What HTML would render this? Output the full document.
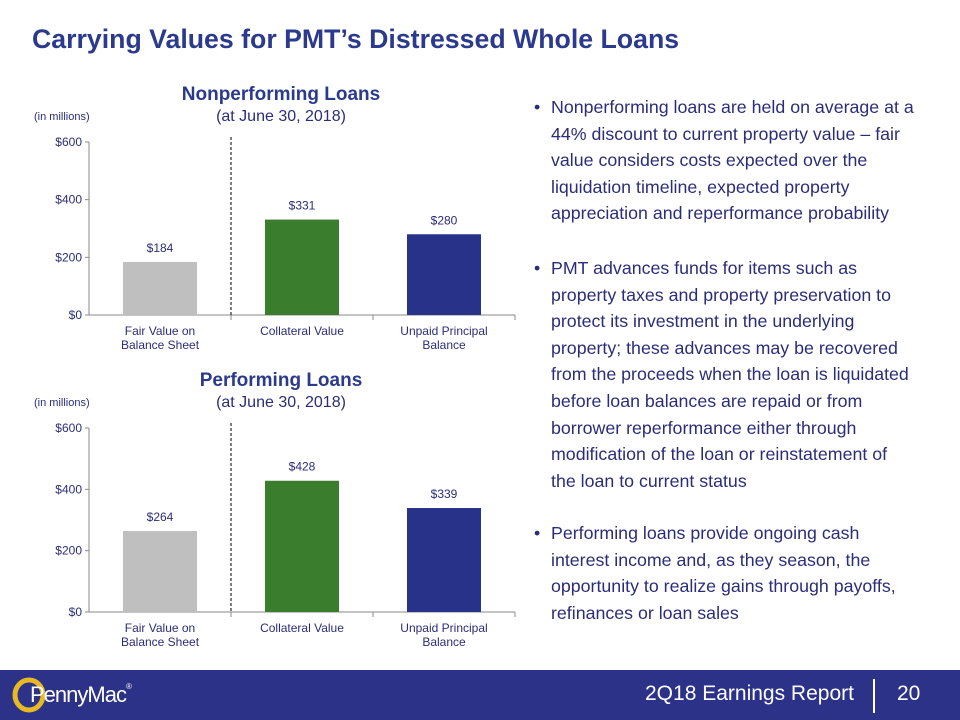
<!DOCTYPE html>
<html><head><meta charset="utf-8"><style>
body{margin:0;width:960px;height:720px;position:relative;background:#fff;font-family:"Liberation Sans",sans-serif;overflow:hidden}
.title{position:absolute;left:32px;top:24px;font-size:26.7px;font-weight:bold;color:#2B3A8C;white-space:nowrap}
.bul{position:absolute;left:534px;font-size:17.8px;color:#2B2D78;line-height:26.6px;white-space:nowrap}
.bul .dot{position:absolute;left:0}
.bul .tx{position:absolute;left:17px}
.footer{position:absolute;left:0;top:670px;width:960px;height:50px;background:#2B3288}
svg text{font-family:"Liberation Sans",sans-serif}
</style></head><body>
<div class="title">Carrying Values for PMT’s Distressed Whole Loans</div>

<svg width="520" height="670" style="position:absolute;left:0;top:0">
<g id="c1"></g>
<g id="c2"></g>
</svg>

<div class="bul" style="top:94px"><span class="dot">•</span><span class="tx">Nonperforming loans are held on average at a<br>44% discount to current property value – fair<br>value considers costs expected over the<br>liquidation timeline, expected property<br>appreciation and reperformance probability</span></div>
<div class="bul" style="top:255px"><span class="dot">•</span><span class="tx">PMT advances funds for items such as<br>property taxes and property preservation to<br>protect its investment in the underlying<br>property; these advances may be recovered<br>from the proceeds when the loan is liquidated<br>before loan balances are repaid or from<br>borrower reperformance either through<br>modification of the loan or reinstatement of<br>the loan to current status</span></div>
<div class="bul" style="top:520px"><span class="dot">•</span><span class="tx">Performing loans provide ongoing cash<br>interest income and, as they season, the<br>opportunity to realize gains through payoffs,<br>refinances or loan sales</span></div>

<div class="footer">
<svg width="40" height="40" style="position:absolute;left:10px;top:5px"><ellipse cx="19" cy="20" rx="14" ry="15" fill="none" stroke="#E8B923" stroke-width="5"/></svg>
<div style="position:absolute;left:30px;top:12px;font-size:22px;color:#fff;letter-spacing:-1px">PennyMac<span style="font-size:8px;vertical-align:top">®</span></div>
<div style="position:absolute;left:645px;top:12px;font-size:21px;color:#fff">2Q18 Earnings Report</div>
<div style="position:absolute;left:873px;top:9px;width:2px;height:34px;background:#fff"></div>
<div style="position:absolute;left:897px;top:12px;font-size:21px;color:#fff">20</div>
</div>

<script>
const categories=["Fair Value on|Balance Sheet","Collateral Value","Unpaid Principal|Balance"];
const npValues=[184,331,280];
const pValues=[264,428,339];
const yTicks=[0,200,400,600];
const yTickLabels=["$0","$200","$400","$600"];
const colors=["#BFBFBF","#3A7D2C","#283289"];
const NS="http://www.w3.org/2000/svg";
function mk(p,t,a){const e=document.createElementNS(NS,t);for(const k in a)e.setAttribute(k,a[k]);p.appendChild(e);return e;}
function draw(g,values,y0,y600,title,prefix){
  const x0=89,cw=142;
  const ys=v=>y0-(v/600)*(y0-y600);
  const xs=i=>x0+cw*i+cw/2;
  let t=mk(g,'text',{x:281,y:y600-42,'text-anchor':'middle','font-size':19,'font-weight':'bold',fill:'#2B3A8C'});t.textContent=title;
  
  t=mk(g,'text',{x:281,y:y600-21,'text-anchor':'middle','font-size':16,fill:'#2B2D78'});t.textContent='(at June 30, 2018)';
  
  t=mk(g,'text',{x:34,y:y600-22,'font-size':11,fill:'#2B2D78'});t.textContent='(in millions)';
  
  let ax=mk(g,'line',{x1:x0,y1:y600,x2:x0,y2:y0,stroke:'#888'});
  
  yTicks.forEach((v,i)=>{mk(g,'line',{x1:x0-4,x2:x0,y1:ys(v),y2:ys(v),stroke:'#888'});
    const l=mk(g,'text',{x:x0-7,y:ys(v)+4,'text-anchor':'end','font-size':12,fill:'#2B2D78'});l.textContent=yTickLabels[i];
    });
  const xa=mk(g,'line',{x1:x0,x2:x0+cw*3,y1:y0,y2:y0,stroke:'#888'});
  
  for(let i=1;i<=3;i++)mk(g,'line',{x1:x0+cw*i,x2:x0+cw*i,y1:y0,y2:y0+5,stroke:'#888'});
  const dl=mk(g,'line',{x1:x0+cw,x2:x0+cw,y1:y600-5,y2:y0,stroke:'#000','stroke-dasharray':'3,2'});
  
  values.forEach((v,i)=>{
    const b=mk(g,'rect',{x:xs(i)-37,y:ys(v),width:74,height:y0-ys(v),fill:colors[i]});
    
    const l=mk(g,'text',{x:xs(i),y:ys(v)-10,'text-anchor':'middle','font-size':12,fill:'#2B2D78'});l.textContent='$'+v;
    
    categories[i].split('|').forEach((s,j)=>{const c=mk(g,'text',{x:xs(i),y:y0+20+j*14,'text-anchor':'middle','font-size':12,fill:'#2B2D78'});c.textContent=s;
      });
  });
}
draw(document.getElementById('c1'),npValues,315,142,'Nonperforming Loans','np');
draw(document.getElementById('c2'),pValues,612,428,'Performing Loans','perf');
</script>
</body></html>
